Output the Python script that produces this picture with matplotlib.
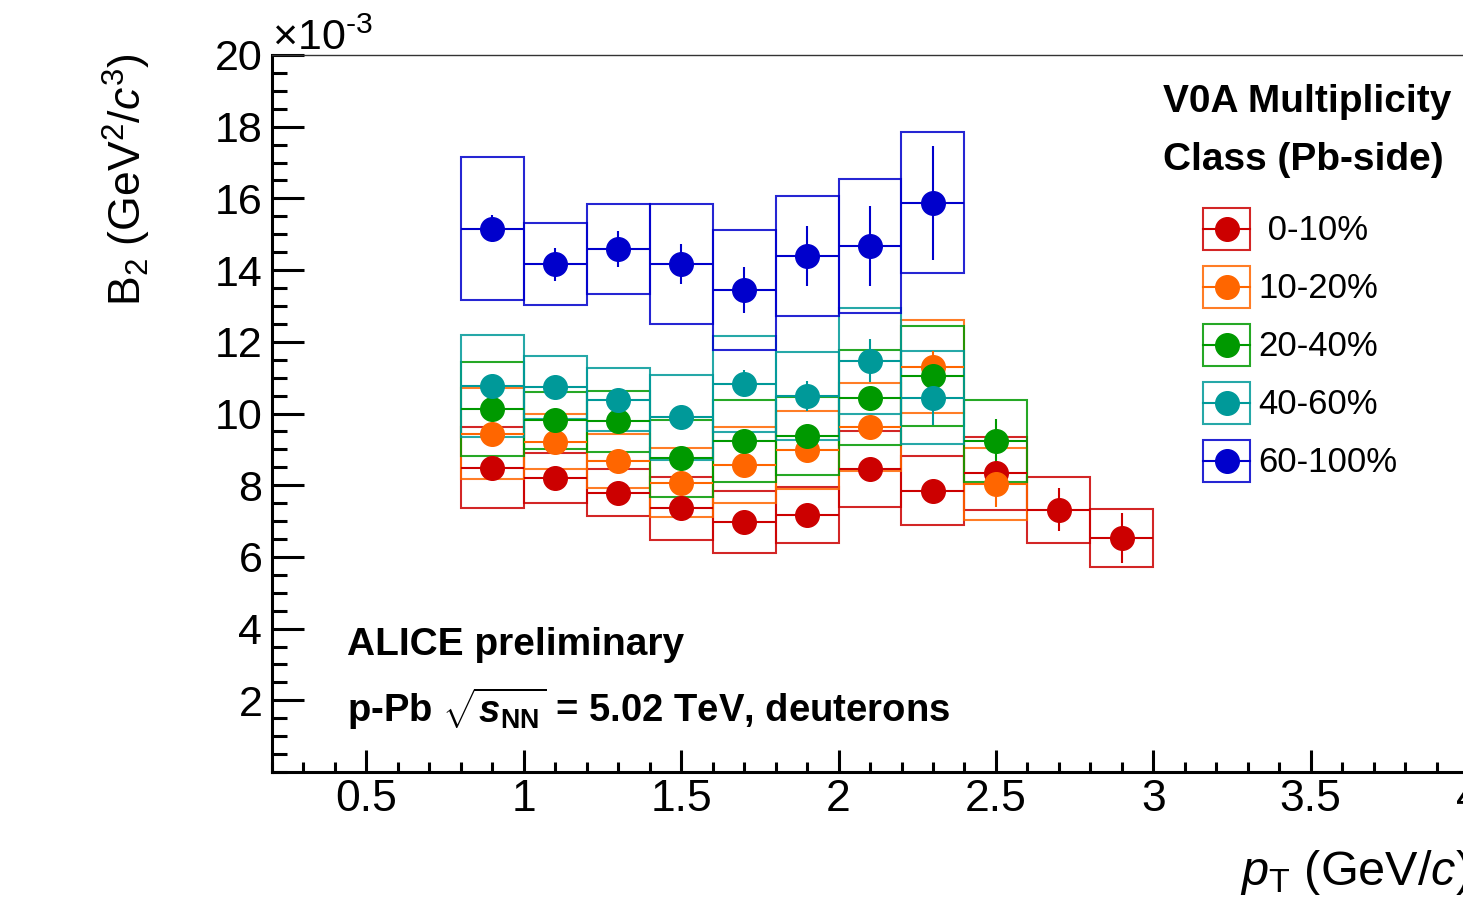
import numpy as np
import matplotlib
matplotlib.use('Agg')
import matplotlib.pyplot as plt
from matplotlib.legend_handler import HandlerBase
from matplotlib.patches import Rectangle
from matplotlib.lines import Line2D

plt.rcParams['font.family'] = ['Liberation Sans', 'DejaVu Sans']
plt.rcParams['mathtext.fontset'] = 'custom'
plt.rcParams['mathtext.rm'] = 'Liberation Sans'
plt.rcParams['mathtext.it'] = 'Liberation Sans:italic'
plt.rcParams['mathtext.bf'] = 'Liberation Sans:bold'
plt.rcParams['mathtext.bfit'] = 'Liberation Sans:italic:bold'

# ── data (B2 in units of 1e-3 GeV^2/c^3) ─────────────────────────────────────
PT_BINS = [0.9, 1.1, 1.3, 1.5, 1.7, 1.9, 2.1, 2.3, 2.5, 2.7, 2.9]
BIN_HALF = 0.1

CLASSES = ["0-10%", "10-20%", "20-40%", "40-60%", "60-100%"]
COLORS  = ['#CC0000', '#FF6600', '#009900', '#009999', '#0000CC']

b2_0_10   = [8.49, 8.19, 7.79, 7.36, 6.98, 7.18, 8.45, 7.85, 8.33, 7.32, 6.53]
sys_0_10  = [1.13, 0.70, 0.66, 0.88, 0.86, 0.78, 1.07, 0.97, 1.02, 0.92, 0.81]
stat_0_10 = [0.15, 0.15, 0.15, 0.20, 0.20, 0.20, 0.20, 0.30, 0.35, 0.60, 0.70]

b2_10_20   = [9.43, 9.21, 8.68, 8.07, 8.56, 8.98, 9.63, 11.31, 8.03]
sys_10_20  = [1.27, 0.77, 0.75, 0.96, 1.07, 1.09, 1.23, 1.30, 1.01]
stat_10_20 = [0.15, 0.15, 0.15, 0.20, 0.20, 0.20, 0.26, 0.42, 0.63]

b2_20_40   = [10.12, 9.81, 9.79, 8.75, 9.23, 9.37, 10.44, 11.05, 9.23]
sys_20_40  = [1.31, 0.80, 0.85, 1.07, 1.14, 1.09, 1.33, 1.39, 1.15]
stat_20_40 = [0.15, 0.15, 0.20, 0.20, 0.20, 0.25, 0.30, 0.35, 0.63]

b2_40_60   = [10.77, 10.73, 10.38, 9.89, 10.83, 10.48, 11.47, 10.44]
sys_40_60  = [1.42, 0.88, 0.88, 1.18, 1.34, 1.23, 1.47, 1.30]
stat_40_60 = [0.20, 0.20, 0.25, 0.30, 0.37, 0.42, 0.60, 0.77]

b2_60_100   = [15.16, 14.16, 14.59, 14.17, 13.44, 14.39, 14.68, 15.88]
sys_60_100  = [2.00, 1.14, 1.25, 1.66, 1.68, 1.67, 1.87, 1.97]
stat_60_100 = [0.37, 0.47, 0.50, 0.56, 0.65, 0.84, 1.12, 1.59]

SERIES = [
    (b2_0_10, sys_0_10, stat_0_10),
    (b2_10_20, sys_10_20, stat_10_20),
    (b2_20_40, sys_20_40, stat_20_40),
    (b2_40_60, sys_40_60, stat_40_60),
    (b2_60_100, sys_60_100, stat_60_100),
]

X_TICKS = [0.5, 1, 1.5, 2, 2.5, 3, 3.5, 4]
X_TICKLABELS = ["0.5", "1", "1.5", "2", "2.5", "3", "3.5", "4"]
Y_TICKS = [2, 4, 6, 8, 10, 12, 14, 16, 18, 20]

# ── figure ────────────────────────────────────────────────────────────────────
W, H = 1463, 901
fig = plt.figure(figsize=(W / 100, H / 100), dpi=100)


def fx(px):
    return px / W


def fy(py):
    return 1 - py / H


# axes runs off the right edge of the picture, like the cropped original
ax = fig.add_axes([fx(272), fy(772), fx(1531 - 272), (772 - 55) / H])
ax.set_xlim(0.2, 4.2)
ax.set_ylim(0, 20)

MS = 17
for (vals, sys, stat), col in zip(SERIES, COLORS):
    x = np.array(PT_BINS[:len(vals)])
    v = np.array(vals)
    s = np.array(sys)
    ax.bar(x, 2 * s, bottom=v - s, width=2 * BIN_HALF, fill=False,
           edgecolor=col, linewidth=1.5, alpha=0.85, zorder=2)
    ax.errorbar(x, v, xerr=BIN_HALF, yerr=stat, fmt='o', ms=MS, color=col,
                elinewidth=1.5, capsize=0, zorder=3)

# axis styling (ROOT-like)
ax.spines['right'].set_visible(False)
ax.spines['left'].set_linewidth(2.2)
ax.spines['bottom'].set_linewidth(2.2)
ax.spines['top'].set_linewidth(1.0)
ax.spines['top'].set_color('#333333')

ax.set_xticks(X_TICKS)
ax.set_xticklabels(X_TICKLABELS)
ax.set_xticks(np.arange(0.2, 4.21, 0.1), minor=True)
ax.set_yticks(Y_TICKS)
ax.set_yticks(np.arange(0, 20.01, 0.5), minor=True)

ax.tick_params(axis='both', which='both', direction='in', width=2.2,
               top=False, right=False)
ax.tick_params(axis='y', which='major', length=23, pad=7, labelsize=31)
ax.tick_params(axis='y', which='minor', length=11)
ax.tick_params(axis='x', which='major', length=16, pad=5, labelsize=32)
ax.tick_params(axis='x', which='minor', length=7)

# axis titles and exponent
fig.text(fx(127), fy(53), r'B$_{2}$ (GeV$^{2}$/$c^{3}$)', rotation=90,
         ha='center', va='top', fontsize=32)
fig.text(fx(1240), fy(885), r'$p_{\mathrm{T}}$ (GeV/$c$)', ha='left',
         va='baseline', fontsize=35)
fig.text(fx(272), fy(50), r'×10$^{\text{-3}}$', ha='left', va='baseline',
         fontsize=31)

# annotations
fig.text(fx(347), fy(655), 'ALICE preliminary', fontsize=28,
         fontweight='bold', va='baseline')
fig.text(fx(347), fy(722),
         r'p-Pb $\sqrt{\mathbfit{s}_{\mathbf{NN}}}$ = 5.02 TeV, deuterons',
         fontsize=27.5, fontweight='bold', va='baseline')

# legend
fig.text(fx(1163), fy(112), 'V0A Multiplicity', fontsize=28,
         fontweight='bold', va='baseline')
fig.text(fx(1163), fy(170), 'Class (Pb-side)', fontsize=28,
         fontweight='bold', va='baseline')


class BoxHandler(HandlerBase):
    def create_artists(self, legend, orig_handle, xdescent, ydescent,
                       width, height, fontsize, trans):
        col = orig_handle.get_color()
        x0, y0 = -xdescent, -ydescent
        rect = Rectangle((x0, y0), width, height, fill=False, edgecolor=col,
                         lw=1.5, alpha=0.85, transform=trans)
        hline = Line2D([x0, x0 + width], [y0 + height / 2] * 2, color=col,
                       lw=1.5, transform=trans)
        mark = Line2D([x0 + width / 2], [y0 + height / 2], marker='o',
                      ms=MS, color=col, ls='none', transform=trans)
        return [rect, hline, mark]


handles = [Line2D([], [], color=c) for c in COLORS]
labels = [' ' + CLASSES[0]] + CLASSES[1:]
LEG_FS = 25
fs_px = LEG_FS * 100 / 72
box_h = 42 / fs_px
hh = (box_h - 0.245) / 0.65
fig.legend(handles, labels, handler_map={Line2D: BoxHandler()},
           loc='upper left', bbox_to_anchor=(fx(1203), fy(208)),
           frameon=False, fontsize=LEG_FS, borderpad=0, borderaxespad=0,
           handlelength=47 / fs_px, handleheight=hh,
           handletextpad=8 / fs_px, labelspacing=16 / fs_px)

fig.savefig('out.png', dpi=100)
